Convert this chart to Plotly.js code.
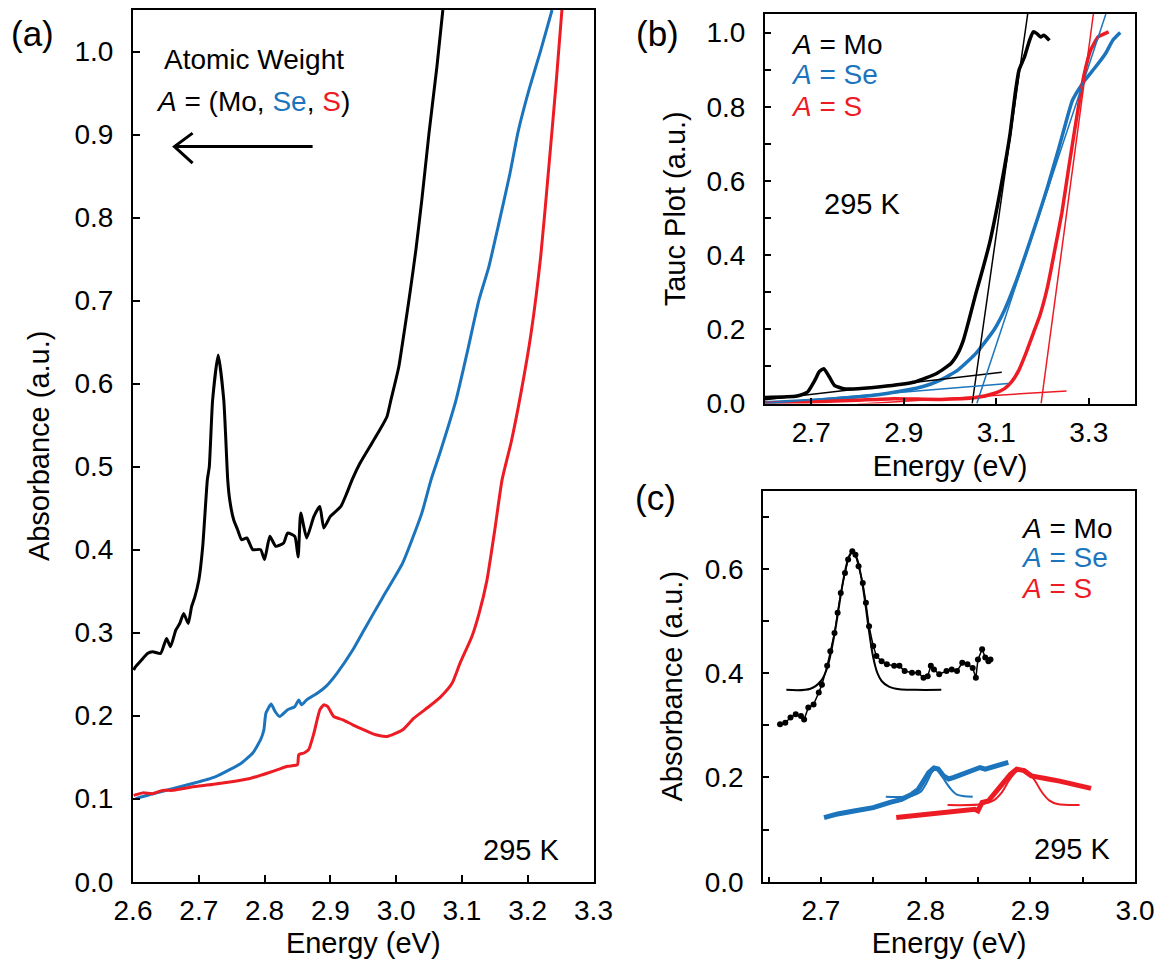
<!DOCTYPE html>
<html>
<head>
<meta charset="utf-8">
<script src="https://cdn.plot.ly/plotly-3.0.1.min.js"></script>
<style>html,body{margin:0;padding:0;background:#fff}#chart{width:1162px;height:959px}</style>
</head>
<body>
<div id="chart"></div>
<script>
// ---------- Panel (a): absorbance spectra ----------
const aMoEnergy = [2.601,2.604,2.613,2.622,2.630,2.642,2.651,2.657,2.665,2.671,2.677,2.684,2.689,2.694,2.700,2.706,2.713,2.716,2.721,2.7295,2.738,2.744,2.747,2.753,2.759,2.765,2.773,2.782,2.794,2.800,2.808,2.817,2.829,2.835,2.846,2.851,2.855,2.864,2.875,2.884,2.890,2.900,2.916,2.925,2.933,2.945,2.963,2.975,2.986,2.992,3.004,3.012,3.021,3.030,3.039,3.050,3.062,3.071];
const aMoAbs    = [0.255,0.259,0.267,0.275,0.277,0.275,0.293,0.283,0.303,0.311,0.323,0.311,0.331,0.343,0.363,0.404,0.484,0.500,0.580,0.6345,0.580,0.484,0.460,0.436,0.424,0.412,0.414,0.400,0.400,0.388,0.416,0.404,0.408,0.420,0.416,0.391,0.444,0.414,0.440,0.452,0.426,0.440,0.452,0.468,0.484,0.504,0.528,0.544,0.560,0.580,0.620,0.661,0.709,0.761,0.821,0.902,0.982,1.050];

const aSeEnergy = [2.604,2.630,2.660,2.689,2.724,2.747,2.765,2.782,2.794,2.799,2.802,2.810,2.816,2.823,2.835,2.846,2.852,2.856,2.864,2.880,2.893,2.910,2.934,2.951,2.980,3.010,3.039,3.053,3.068,3.091,3.109,3.126,3.141,3.155,3.173,3.185,3.202,3.220,3.237];
const aSeAbs    = [0.100,0.106,0.112,0.118,0.126,0.135,0.143,0.155,0.171,0.183,0.203,0.214,0.205,0.199,0.207,0.211,0.219,0.213,0.219,0.227,0.235,0.251,0.279,0.303,0.343,0.384,0.444,0.484,0.520,0.580,0.641,0.701,0.741,0.789,0.853,0.902,0.954,1.002,1.050];

const aSEnergy = [2.601,2.615,2.630,2.645,2.660,2.675,2.689,2.720,2.747,2.776,2.805,2.820,2.835,2.850,2.852,2.860,2.867,2.875,2.884,2.890,2.896,2.905,2.919,2.934,2.951,2.969,2.986,3.010,3.027,3.050,3.068,3.085,3.097,3.115,3.126,3.138,3.150,3.161,3.175,3.190,3.205,3.220,3.232,3.243,3.252];
const aSAbs    = [0.104,0.107,0.106,0.110,0.110,0.112,0.114,0.117,0.120,0.124,0.131,0.135,0.139,0.141,0.153,0.155,0.159,0.179,0.207,0.213,0.211,0.199,0.195,0.189,0.183,0.177,0.175,0.183,0.197,0.211,0.223,0.239,0.263,0.295,0.323,0.363,0.424,0.484,0.530,0.590,0.660,0.755,0.860,0.960,1.050];

// ---------- Panel (b): Tauc plot ----------
const bMoEnergy = [2.600,2.669,2.692,2.708,2.717,2.727,2.739,2.750,2.770,2.801,2.863,2.924,2.971,3.002,3.017,3.029,3.041,3.056,3.072,3.087,3.102,3.118,3.130,3.141,3.149,3.161,3.172,3.180,3.188,3.196,3.203,3.215];
const bMoTauc   = [0.016,0.020,0.031,0.063,0.085,0.094,0.072,0.049,0.040,0.040,0.047,0.058,0.081,0.108,0.135,0.171,0.225,0.297,0.368,0.440,0.530,0.638,0.728,0.836,0.898,0.934,0.979,1.002,0.997,0.988,0.993,0.979];
const bSeEnergy = [2.600,2.708,2.785,2.863,2.940,2.979,3.017,3.056,3.095,3.118,3.141,3.164,3.188,3.211,3.234,3.250,3.265,3.289,3.312,3.336,3.352,3.368];
const bSeTauc   = [0.002,0.009,0.016,0.027,0.045,0.063,0.090,0.135,0.198,0.252,0.323,0.404,0.494,0.584,0.683,0.755,0.818,0.867,0.903,0.943,0.979,1.000];
const bSEnergy = [2.600,2.700,2.800,2.880,2.979,3.056,3.095,3.118,3.133,3.149,3.164,3.180,3.195,3.211,3.226,3.242,3.257,3.273,3.289,3.304,3.320,3.327,3.343];
const bSTauc   = [0.000,0.004,0.009,0.013,0.011,0.016,0.027,0.040,0.058,0.090,0.135,0.189,0.240,0.315,0.410,0.515,0.638,0.764,0.881,0.952,0.988,0.993,1.002];
// linear fits (end points)
const bMoSteepE = [3.048,3.168], bMoSteepT = [0.000,1.050];
const bMoBaseE  = [2.600,3.112], bMoBaseT  = [0.010,0.084];
const bSeSteepE = [3.058,3.337], bSeSteepT = [0.000,1.050];
const bSeBaseE  = [2.600,3.126], bSeBaseT  = [0.000,0.054];
const bSSteepE  = [3.197,3.310], bSSteepT  = [0.000,1.050];
const bSBaseE   = [2.800,3.252], bSBaseT   = [-0.002,0.034];

// ---------- Panel (c): exciton peaks ----------
const cMoEnergy = [2.661,2.666,2.671,2.676,2.681,2.684,2.688,2.693,2.698,2.701,2.706,2.709,2.713,2.716,2.719,2.723,2.726,2.730,2.733,2.736,2.740,2.743,2.746,2.750,2.753,2.758,2.763,2.770,2.775,2.780,2.787,2.793,2.798,2.802,2.805,2.808,2.813,2.820,2.825,2.830,2.835,2.840,2.845,2.848,2.850,2.854,2.857,2.860,2.862];
const cMoAbs    = [0.302,0.305,0.315,0.321,0.318,0.311,0.334,0.340,0.363,0.378,0.414,0.442,0.477,0.516,0.554,0.592,0.618,0.634,0.627,0.605,0.573,0.535,0.490,0.452,0.433,0.423,0.417,0.414,0.414,0.404,0.401,0.401,0.391,0.394,0.414,0.407,0.398,0.404,0.407,0.404,0.420,0.417,0.410,0.391,0.426,0.446,0.430,0.423,0.426];
const cMoFitE = [2.667,2.690,2.700,2.706,2.713,2.719,2.723,2.727,2.730,2.734,2.738,2.742,2.746,2.750,2.754,2.758,2.765,2.775,2.790,2.815];
const cMoFitA = [0.368,0.370,0.385,0.410,0.475,0.550,0.595,0.625,0.632,0.622,0.590,0.540,0.480,0.430,0.400,0.385,0.374,0.369,0.368,0.368];
const cSeEnergy = [2.703,2.716,2.733,2.750,2.766,2.777,2.787,2.793,2.798,2.803,2.808,2.812,2.817,2.822,2.827,2.834,2.844,2.852,2.857,2.867,2.879];
const cSeAbs    = [0.123,0.130,0.136,0.142,0.152,0.158,0.168,0.177,0.193,0.209,0.218,0.216,0.203,0.197,0.200,0.206,0.213,0.219,0.216,0.222,0.229];
const cSeFitE = [2.762,2.785,2.795,2.801,2.806,2.809,2.813,2.818,2.824,2.830,2.837,2.845];
const cSeFitA = [0.163,0.164,0.172,0.190,0.210,0.216,0.212,0.195,0.178,0.167,0.164,0.163];
const cSEnergy = [2.772,2.787,2.800,2.817,2.834,2.847,2.850,2.854,2.860,2.867,2.874,2.881,2.887,2.894,2.901,2.907,2.917,2.928,2.934,2.944,2.958];
const cSAbs    = [0.123,0.126,0.130,0.133,0.136,0.139,0.136,0.152,0.155,0.171,0.190,0.206,0.216,0.213,0.203,0.200,0.197,0.193,0.190,0.184,0.179];
const cSFitE = [2.821,2.855,2.865,2.873,2.880,2.887,2.892,2.897,2.904,2.911,2.918,2.926,2.947];
const cSFitA = [0.147,0.149,0.156,0.172,0.195,0.212,0.216,0.212,0.195,0.172,0.156,0.149,0.147];

// ---------- styling ----------
const BLACK = '#000000', BLUE = '#1c75bc', RED = '#ed1c24';
const FONT = 'Liberation Sans, Arial, Helvetica, sans-serif';
const W = 1162, H = 959;
const px = v => v / W, py = v => 1 - v / H;
const SMOOTH = {shape: 'spline', smoothing: 0.5};

const traces = [
  {x: aMoEnergy, y: aMoAbs, xaxis: 'x', yaxis: 'y', mode: 'lines', line: Object.assign({color: BLACK, width: 3}, SMOOTH)},
  {x: aSeEnergy, y: aSeAbs, xaxis: 'x', yaxis: 'y', mode: 'lines', line: Object.assign({color: BLUE, width: 3}, SMOOTH)},
  {x: aSEnergy,  y: aSAbs,  xaxis: 'x', yaxis: 'y', mode: 'lines', line: Object.assign({color: RED, width: 3}, SMOOTH)},

  {x: bMoEnergy, y: bMoTauc, xaxis: 'x2', yaxis: 'y2', mode: 'lines', line: Object.assign({color: BLACK, width: 3.5}, SMOOTH)},
  {x: bSeEnergy, y: bSeTauc, xaxis: 'x2', yaxis: 'y2', mode: 'lines', line: Object.assign({color: BLUE, width: 3.5}, SMOOTH)},
  {x: bSEnergy,  y: bSTauc,  xaxis: 'x2', yaxis: 'y2', mode: 'lines', line: Object.assign({color: RED, width: 3.5}, SMOOTH)},
  {x: bMoSteepE, y: bMoSteepT, xaxis: 'x2', yaxis: 'y2', mode: 'lines', line: {color: BLACK, width: 1.5}},
  {x: bMoBaseE,  y: bMoBaseT,  xaxis: 'x2', yaxis: 'y2', mode: 'lines', line: {color: BLACK, width: 1.5}},
  {x: bSeSteepE, y: bSeSteepT, xaxis: 'x2', yaxis: 'y2', mode: 'lines', line: {color: BLUE, width: 1.5}},
  {x: bSeBaseE,  y: bSeBaseT,  xaxis: 'x2', yaxis: 'y2', mode: 'lines', line: {color: BLUE, width: 1.5}},
  {x: bSSteepE,  y: bSSteepT,  xaxis: 'x2', yaxis: 'y2', mode: 'lines', line: {color: RED, width: 1.5}},
  {x: bSBaseE,   y: bSBaseT,   xaxis: 'x2', yaxis: 'y2', mode: 'lines', line: {color: RED, width: 1.5}},

  {x: cMoEnergy, y: cMoAbs, xaxis: 'x3', yaxis: 'y3', mode: 'lines+markers', line: {color: BLACK, width: 1.5}, marker: {color: BLACK, size: 6}},
  {x: cMoFitE,   y: cMoFitA, xaxis: 'x3', yaxis: 'y3', mode: 'lines', line: {color: BLACK, width: 2, shape: 'spline'}},
  {x: cSeEnergy, y: cSeAbs, xaxis: 'x3', yaxis: 'y3', mode: 'lines', line: {color: BLUE, width: 5}},
  {x: cSeFitE,   y: cSeFitA, xaxis: 'x3', yaxis: 'y3', mode: 'lines', line: {color: BLUE, width: 2, shape: 'spline'}},
  {x: cSEnergy,  y: cSAbs,  xaxis: 'x3', yaxis: 'y3', mode: 'lines', line: {color: RED, width: 5}},
  {x: cSFitE,    y: cSFitA, xaxis: 'x3', yaxis: 'y3', mode: 'lines', line: {color: RED, width: 2, shape: 'spline'}}
];

const axisBase = {
  showline: true, linecolor: BLACK, linewidth: 2, mirror: true,
  ticks: 'inside', ticklen: 7, tickwidth: 2, tickcolor: BLACK,
  showgrid: false, zeroline: false, fixedrange: true,
  tickfont: {family: FONT, size: 28, color: BLACK},
  ticklabelstandoff: 12
};
const titleFont = {family: FONT, size: 29, color: BLACK};

const layout = {
  width: W, height: H,
  margin: {l: 0, r: 0, t: 0, b: 0, pad: 0, autoexpand: false},
  paper_bgcolor: '#ffffff', plot_bgcolor: '#ffffff',
  showlegend: false,
  font: {family: FONT, color: BLACK},
  xaxis: Object.assign({}, axisBase, {domain: [px(133), px(593.5)], anchor: 'y', range: [2.6, 3.3], dtick: 0.1, tick0: 2.6, tickformat: '.1f',
    ticklabelstandoff: 3, title: {text: 'Energy (eV)', font: titleFont, standoff: 12}}),
  yaxis: Object.assign({}, axisBase, {domain: [py(881.7), py(10)], anchor: 'x', range: [0, 1.05], dtick: 0.1, tick0: 0, tickformat: '.1f',
    title: {text: 'Absorbance (a.u.)', font: titleFont, standoff: 16}}),
  xaxis2: Object.assign({}, axisBase, {domain: [px(765), px(1135)], anchor: 'y2', range: [2.6, 3.4], tickvals: [2.7, 2.9, 3.1, 3.3], ticktext: ['2.7', '2.9', '3.1', '3.3'], ticklen: 6,
    ticklabelstandoff: 3, title: {text: 'Energy (eV)', font: titleFont, standoff: 9}}),
  yaxis2: Object.assign({}, axisBase, {domain: [py(403.5), py(14)], anchor: 'x2', range: [0, 1.05], dtick: 0.2, tick0: 0, tickformat: '.1f', ticklen: 6,
    minor: {dtick: 0.1, tick0: 0, ticks: 'inside', ticklen: 6, tickwidth: 2, tickcolor: BLACK, showgrid: false},
    title: {text: 'Tauc Plot (a.u.)', font: titleFont, standoff: 12}}),
  xaxis3: Object.assign({}, axisBase, {domain: [px(763.3), px(1135)], anchor: 'y3', range: [2.645, 3.0], dtick: 0.1, tick0: 2.7, tickformat: '.1f', ticklen: 5,
    minor: {dtick: 0.05, tick0: 2.7, ticks: 'inside', ticklen: 5, tickwidth: 2, tickcolor: BLACK, showgrid: false},
    ticklabelstandoff: 3, title: {text: 'Energy (eV)', font: titleFont, standoff: 11}}),
  yaxis3: Object.assign({}, axisBase, {domain: [py(881.7), py(490.7)], anchor: 'x3', range: [0, 0.75], dtick: 0.2, tick0: 0, tickformat: '.1f', ticklen: 6,
    minor: {dtick: 0.1, tick0: 0, ticks: 'inside', ticklen: 6, tickwidth: 2, tickcolor: BLACK, showgrid: false},
    title: {text: 'Absorbance (a.u.)', font: titleFont, standoff: 14}}),
  shapes: [
    {type: 'line', xref: 'x', yref: 'y', x0: 2.873, y0: 0.8855, x1: 2.665, y1: 0.8855, line: {color: BLACK, width: 3}},
    {type: 'path', xref: 'x', yref: 'y', path: 'M 2.6906,0.9017 L 2.663,0.8855 L 2.6906,0.8655', line: {color: BLACK, width: 3}}
  ],
  annotations: [
    {text: '(a)', xref: 'paper', yref: 'paper', x: px(32), y: py(34), xanchor: 'center', yanchor: 'middle', showarrow: false, font: {family: FONT, size: 35, color: BLACK}},
    {text: '(b)', xref: 'paper', yref: 'paper', x: px(657), y: py(34), xanchor: 'center', yanchor: 'middle', showarrow: false, font: {family: FONT, size: 35, color: BLACK}},
    {text: '(c)', xref: 'paper', yref: 'paper', x: px(655), y: py(497), xanchor: 'center', yanchor: 'middle', showarrow: false, font: {family: FONT, size: 35, color: BLACK}},

    {text: 'Atomic Weight', xref: 'x', yref: 'y', x: 2.644, y: 0.990, xanchor: 'left', yanchor: 'middle', showarrow: false, font: {family: FONT, size: 28, color: BLACK}},
    {text: '<i>A</i> = (Mo, <span style="color:' + BLUE + '">Se</span>, <span style="color:' + RED + '">S</span>)', xref: 'x', yref: 'y', x: 2.632, y: 0.940, xanchor: 'left', yanchor: 'middle', showarrow: false, font: {family: FONT, size: 28, color: BLACK}},
    {text: '295 K', xref: 'x', yref: 'y', x: 3.251, y: 0.038, xanchor: 'right', yanchor: 'middle', showarrow: false, font: {family: FONT, size: 29, color: BLACK}},

    {text: '<i>A</i> = Mo', xref: 'x2', yref: 'y2', x: 2.652, y: 0.967, xanchor: 'left', yanchor: 'middle', showarrow: false, font: {family: FONT, size: 28, color: BLACK}},
    {text: '<i>A</i> = Se', xref: 'x2', yref: 'y2', x: 2.652, y: 0.887, xanchor: 'left', yanchor: 'middle', showarrow: false, font: {family: FONT, size: 28, color: BLUE}},
    {text: '<i>A</i> = S',  xref: 'x2', yref: 'y2', x: 2.652, y: 0.800, xanchor: 'left', yanchor: 'middle', showarrow: false, font: {family: FONT, size: 28, color: RED}},
    {text: '295 K', xref: 'x2', yref: 'y2', x: 2.723, y: 0.539, xanchor: 'left', yanchor: 'middle', showarrow: false, font: {family: FONT, size: 29, color: BLACK}},

    {text: '<i>A</i> = Mo', xref: 'x3', yref: 'y3', x: 2.889, y: 0.677, xanchor: 'left', yanchor: 'middle', showarrow: false, font: {family: FONT, size: 28, color: BLACK}},
    {text: '<i>A</i> = Se', xref: 'x3', yref: 'y3', x: 2.889, y: 0.621, xanchor: 'left', yanchor: 'middle', showarrow: false, font: {family: FONT, size: 28, color: BLUE}},
    {text: '<i>A</i> = S',  xref: 'x3', yref: 'y3', x: 2.889, y: 0.563, xanchor: 'left', yanchor: 'middle', showarrow: false, font: {family: FONT, size: 28, color: RED}},
    {text: '295 K', xref: 'x3', yref: 'y3', x: 2.978, y: 0.062, xanchor: 'right', yanchor: 'middle', showarrow: false, font: {family: FONT, size: 29, color: BLACK}}
  ]
};

Plotly.newPlot('chart', traces, layout, {staticPlot: true, displayModeBar: false});
</script>
</body>
</html>
